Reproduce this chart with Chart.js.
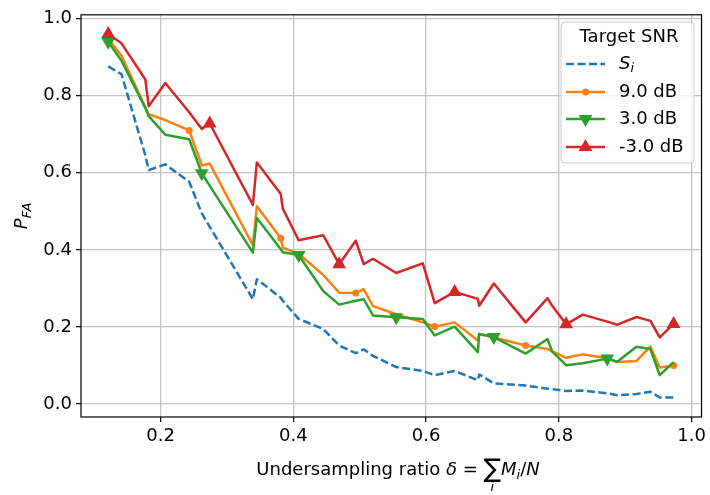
<!DOCTYPE html>
<html>
<head>
<meta charset="utf-8">
<script src="https://cdn.jsdelivr.net/npm/chart.js@4.4.1/dist/chart.umd.min.js"></script>
<style>
  html, body { margin: 0; padding: 0; background: #fff; }
</style>
</head>
<body>
<canvas id="chart" width="710" height="495"></canvas>
<script>
// ===== Data =====
const ratios = [0.121, 0.141, 0.177, 0.182, 0.207, 0.243, 0.262, 0.274, 0.339, 0.345,
  0.381, 0.384, 0.408, 0.445, 0.469, 0.494, 0.506, 0.520, 0.555, 0.595,
  0.613, 0.643, 0.678, 0.680, 0.702, 0.750, 0.783, 0.790, 0.811, 0.836,
  0.873, 0.888, 0.917, 0.938, 0.952, 0.973];

const pfaSi = [0.876, 0.856, 0.645, 0.607, 0.622, 0.577, 0.495, 0.460, 0.272, 0.324,
  0.276, 0.268, 0.221, 0.195, 0.152, 0.132, 0.142, 0.125, 0.096, 0.086,
  0.075, 0.086, 0.062, 0.077, 0.054, 0.048, 0.040, 0.039, 0.034, 0.035,
  0.028, 0.023, 0.026, 0.032, 0.017, 0.017];

const pfa9dB = [0.948, 0.904, 0.770, 0.752, 0.737, 0.710, 0.619, 0.624, 0.412, 0.513,
  0.430, 0.406, 0.390, 0.335, 0.289, 0.288, 0.298, 0.254, 0.233, 0.212,
  0.201, 0.212, 0.165, 0.182, 0.173, 0.152, 0.143, 0.137, 0.120, 0.129,
  0.119, 0.109, 0.112, 0.149, 0.095, 0.100];

const pfa3dB = [0.940, 0.891, 0.768, 0.747, 0.699, 0.687, 0.599, 0.566, 0.393, 0.483,
  0.402, 0.394, 0.387, 0.293, 0.258, 0.268, 0.272, 0.230, 0.225, 0.221,
  0.178, 0.201, 0.135, 0.182, 0.174, 0.131, 0.169, 0.136, 0.101, 0.106,
  0.118, 0.110, 0.149, 0.143, 0.075, 0.109];

const pfaMinus3dB = [0.960, 0.936, 0.842, 0.773, 0.833, 0.757, 0.714, 0.728, 0.517, 0.627,
  0.545, 0.507, 0.425, 0.438, 0.363, 0.424, 0.363, 0.377, 0.340, 0.365,
  0.262, 0.291, 0.273, 0.255, 0.313, 0.212, 0.275, 0.255, 0.207, 0.232,
  0.214, 0.206, 0.226, 0.216, 0.173, 0.208];

const xTicks = [0.2, 0.4, 0.6, 0.8, 1.0];
const yTicks = [0.0, 0.2, 0.4, 0.6, 0.8, 1.0];
const legendTitle = "Target SNR";
const snrLabels = ["9.0 dB", "3.0 dB", "-3.0 dB"];

// ===== Style =====
const FONT = "DejaVu Sans";
const FS = 18, FSUB = 13;
const C_BLUE = "#1f77b4", C_ORANGE = "#ff7f0e", C_GREEN = "#2ca02c", C_RED = "#d62728";
const LW = 2.5;

const toPoints = ys => ratios.map((x, i) => ({ x, y: ys[i] }));
const every = (n, r) => ctx => (ctx.dataIndex % n === 0 ? r : 0);

// ===== Helpers for drawing markers (legend) =====
function triangle(ctx, x, y, r, down) {
  const s = down ? -1 : 1;
  ctx.beginPath();
  ctx.moveTo(x, y - s * r);
  ctx.lineTo(x + r * Math.sin(2 * Math.PI / 3), y + s * r / 2);
  ctx.lineTo(x - r * Math.sin(2 * Math.PI / 3), y + s * r / 2);
  ctx.closePath();
  ctx.fill();
}

function roundRect(ctx, x, y, w, h, r) {
  ctx.beginPath();
  ctx.moveTo(x + r, y);
  ctx.lineTo(x + w - r, y);
  ctx.quadraticCurveTo(x + w, y, x + w, y + r);
  ctx.lineTo(x + w, y + h - r);
  ctx.quadraticCurveTo(x + w, y + h, x + w - r, y + h);
  ctx.lineTo(x + r, y + h);
  ctx.quadraticCurveTo(x, y + h, x, y + h - r);
  ctx.lineTo(x, y + r);
  ctx.quadraticCurveTo(x, y, x + r, y);
  ctx.closePath();
}

// ===== Frame, titles and legend =====
const decorations = {
  id: "decorations",
  afterDatasetsDraw(chart) {
    const { ctx, chartArea: a } = chart;
    ctx.save();
    ctx.strokeStyle = "#000";
    ctx.lineWidth = 1.2;
    ctx.strokeRect(a.left, a.top, a.right - a.left, a.bottom - a.top);
    ctx.restore();
  },
  afterDraw(chart) {
    const { ctx, chartArea: a } = chart;
    ctx.save();
    ctx.fillStyle = "#000";
    ctx.textBaseline = "alphabetic";

    // x title: Undersampling ratio δ = ∑_i M_i/N
    const parts = [
      { t: "Undersampling ratio ", f: `${FS}px "${FONT}"` },
      { t: "δ", f: `italic ${FS}px "${FONT}"` },
      { t: " = ", f: `${FS}px "${FONT}"` },
      { t: "∑", f: `26px "${FONT}"`, sum: true },
      { t: "M", f: `italic ${FS}px "${FONT}"` },
      { t: "i", f: `italic ${FSUB}px "${FONT}"`, dy: 4 },
      { t: "/", f: `${FS}px "${FONT}"` },
      { t: "N", f: `italic ${FS}px "${FONT}"` }
    ];
    let total = 0;
    parts.forEach(p => { ctx.font = p.f; p.w = ctx.measureText(p.t).width; total += p.w; });
    let x = 398 - total / 2;
    const base = 475;
    parts.forEach(p => {
      ctx.font = p.f;
      ctx.fillText(p.t, x, base + (p.dy || 0) + (p.sum ? 2 : 0));
      if (p.sum) {
        ctx.font = `italic ${FSUB}px "${FONT}"`;
        ctx.textAlign = "center";
        ctx.fillText("i", x + p.w / 2, base + 16);
        ctx.textAlign = "left";
      }
      x += p.w;
    });

    // y title: P_FA
    ctx.translate(27, (a.top + a.bottom) / 2);
    ctx.rotate(-Math.PI / 2);
    ctx.font = `italic ${FS}px "${FONT}"`;
    const wP = ctx.measureText("P").width;
    ctx.font = `italic ${FSUB}px "${FONT}"`;
    const wFA = ctx.measureText("FA").width;
    const yx = -(wP + wFA) / 2;
    ctx.font = `italic ${FS}px "${FONT}"`;
    ctx.fillText("P", yx, 0);
    ctx.font = `italic ${FSUB}px "${FONT}"`;
    ctx.fillText("FA", yx + wP, 4);
    ctx.restore();

    // legend
    ctx.save();
    roundRect(ctx, 561, 22, 133, 141, 4);
    ctx.fillStyle = "rgba(255,255,255,0.8)";
    ctx.fill();
    ctx.strokeStyle = "#cccccc";
    ctx.lineWidth = 1;
    ctx.stroke();

    ctx.fillStyle = "#000";
    ctx.textBaseline = "middle";
    ctx.textAlign = "center";
    ctx.font = `${FS}px "${FONT}"`;
    ctx.fillText(legendTitle, 629, 37);

    const rows = [64, 92, 119, 147];
    const x0 = 566, x1 = 605, xm = (x0 + x1) / 2, tx = 619;
    ctx.lineWidth = LW;
    // S_i dashed
    ctx.strokeStyle = C_BLUE;
    ctx.setLineDash([8, 3.5]);
    ctx.beginPath(); ctx.moveTo(x0, rows[0]); ctx.lineTo(x1, rows[0]); ctx.stroke();
    ctx.setLineDash([]);
    ctx.textAlign = "left";
    ctx.fillStyle = "#000";
    ctx.font = `italic ${FS}px "${FONT}"`;
    const wS = ctx.measureText("S").width;
    ctx.fillText("S", tx, rows[0]);
    ctx.font = `italic ${FSUB}px "${FONT}"`;
    ctx.fillText("i", tx + wS, rows[0] + 5);

    const cols = [C_ORANGE, C_GREEN, C_RED];
    snrLabels.forEach((lab, k) => {
      const y = rows[k + 1];
      ctx.strokeStyle = cols[k];
      ctx.fillStyle = cols[k];
      ctx.beginPath(); ctx.moveTo(x0, y); ctx.lineTo(x1, y); ctx.stroke();
      if (k === 0) { ctx.beginPath(); ctx.arc(xm, y, 3.5, 0, 2 * Math.PI); ctx.fill(); }
      if (k === 1) triangle(ctx, xm, y, 8, true);
      if (k === 2) triangle(ctx, xm, y, 8, false);
      ctx.fillStyle = "#000";
      ctx.font = `${FS}px "${FONT}"`;
      ctx.fillText(lab, tx, y);
    });
    ctx.restore();
  }
};

// ===== Chart =====
const axisGrid = { color: "#c4c4c4", lineWidth: 1.3, tickColor: "#000", tickLength: 5, tickWidth: 1.2 };
const tickFont = { family: FONT, size: FS };

new Chart(document.getElementById("chart"), {
  type: "line",
  data: {
    datasets: [
      { label: "S_i", data: toPoints(pfaSi), borderColor: C_BLUE, borderWidth: LW,
        borderDash: [8, 3.5], pointRadius: 0, order: 4 },
      { label: snrLabels[0], data: toPoints(pfa9dB), borderColor: C_ORANGE, borderWidth: LW,
        pointRadius: every(5, 3.5), pointBackgroundColor: C_ORANGE, pointBorderWidth: 0,
        pointStyle: "circle", order: 3 },
      { label: snrLabels[1], data: toPoints(pfa3dB), borderColor: C_GREEN, borderWidth: LW,
        pointRadius: every(6, 8), pointBackgroundColor: C_GREEN, pointBorderWidth: 0,
        pointStyle: "triangle", pointRotation: 180, order: 2 },
      { label: snrLabels[2], data: toPoints(pfaMinus3dB), borderColor: C_RED, borderWidth: LW,
        pointRadius: every(7, 8), pointBackgroundColor: C_RED, pointBorderWidth: 0,
        pointStyle: "triangle", order: 1 }
    ]
  },
  options: {
    responsive: false,
    animation: false,
    events: [],
    elements: { line: { tension: 0, borderJoinStyle: "round", fill: false } },
    layout: { padding: { top: 12, right: 7, left: 0, bottom: 0 } },
    plugins: { legend: { display: false }, tooltip: { enabled: false } },
    scales: {
      x: {
        type: "linear", min: 0.080, max: 1.015,
        afterBuildTicks: s => { s.ticks = xTicks.map(v => ({ value: v })); },
        afterFit: s => { s.height = 78; },
        grid: axisGrid,
        border: { display: false },
        ticks: { color: "#000", font: tickFont, padding: 4, maxRotation: 0,
          callback: v => v.toFixed(1) }
      },
      y: {
        type: "linear", min: -0.0335, max: 1.010,
        afterBuildTicks: s => { s.ticks = yTicks.map(v => ({ value: v })); },
        afterFit: s => { s.width = 81; },
        grid: axisGrid,
        border: { display: false },
        ticks: { color: "#000", font: tickFont, padding: 4,
          callback: v => v.toFixed(1) }
      }
    }
  },
  plugins: [decorations]
});
</script>
</body>
</html>
